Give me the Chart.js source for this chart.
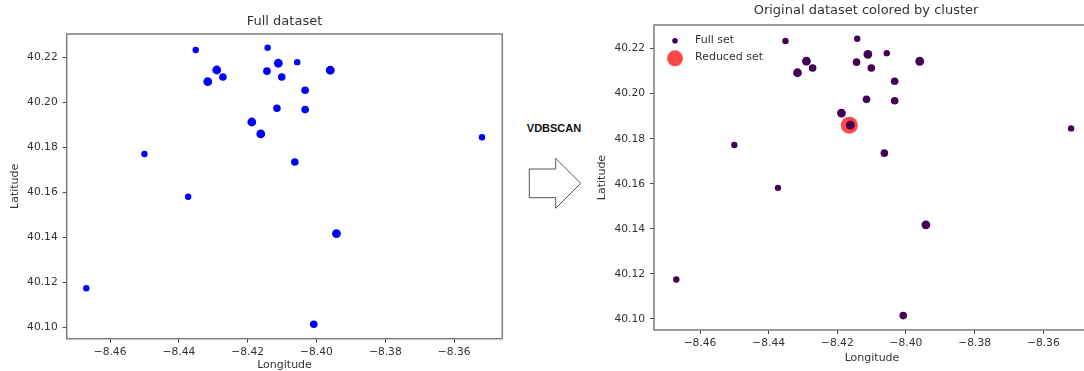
<!DOCTYPE html>
<html>
<head>
<meta charset="utf-8">
<script src="https://cdn.jsdelivr.net/npm/chart.js@4.4.1/dist/chart.umd.min.js"></script>
<style>
  html,body{margin:0;padding:0;background:#fff;overflow:hidden;width:1084px;height:371px;}
  canvas{position:absolute;top:0;}
  #left{left:0;}
  #right{left:590px;}
  #step{position:absolute;left:521px;top:121.7px;width:66px;text-align:center;line-height:12px;
        font:bold 11px "Liberation Sans",Arial,sans-serif;color:#111;}
  #arrow{position:absolute;left:520px;top:150px;}
</style>
</head>
<body>
<canvas id="left" width="505" height="372"></canvas>
<canvas id="right" width="500" height="371"></canvas>
<div id="step">VDBSCAN</div>
<svg id="arrow" width="70" height="70">
  <polygon points="9.3,19 35.7,19 35.7,8.3 60.7,33.3 35.7,58.3 35.7,47.7 9.3,47.7" fill="#fff" stroke="#555" stroke-width="1"/>
</svg>
<script>
// --- Data ---
const longitude = [-8.4351,-8.4142,-8.4290,-8.4316,-8.4272,-8.4144,-8.4111,-8.4101,-8.4056,-8.3960,-8.4033,
                   -8.4115,-8.4033,-8.4188,-8.4162,-8.3519,-8.4500,-8.4063,-8.4373,-8.3942,-8.4669,-8.4008];
const latitude  = [40.2234,40.2244,40.2145,40.2093,40.2114,40.2140,40.2175,40.2114,40.2180,40.2144,40.2055,
                   40.1975,40.1969,40.1914,40.1861,40.1846,40.1772,40.1736,40.1582,40.1418,40.1175,40.1015];
// how many records sit (almost) on top of each other at each spot
const overlap   = [1,1,3,3,2,2,3,2,1,3,2,2,2,3,3,1,1,2,1,3,1,2];
const reducedLon = [-8.4165];
const reducedLat = [40.1860];
const seriesNames = ['Full set','Reduced set'];
const chartTitles = ['Full dataset','Original dataset colored by cluster'];
const tickStep = 0.02;

Chart.defaults.font.family = '"DejaVu Sans", sans-serif';
Chart.defaults.color = '#333';

function points(xs, ys){ return xs.map((x,i)=>({x:x, y:ys[i]})); }
function radiusFor(ctx){ return [0,3.2,3.8,4.4][overlap[ctx.dataIndex]] || 3.2; }
function fmt(v){ return (v<0 ? '\u2212' : '') + Math.abs(v).toFixed(2); }

// matplotlib style box around the axes
const frame = {
  id:'frame',
  afterDatasetsDraw(chart){
    const a=chart.chartArea, ctx=chart.ctx;
    ctx.save();
    ctx.strokeStyle='#7f7f7f'; ctx.lineWidth=1.5;
    ctx.strokeRect(a.left, a.top, a.right-a.left, a.bottom-a.top);
    ctx.restore();
  }
};

// title centred over the axes rather than the canvas
const plotTitle = {
  id:'plotTitle',
  afterDraw(chart, args, opts){
    const a=chart.chartArea, ctx=chart.ctx;
    ctx.save();
    ctx.font='13px "DejaVu Sans", sans-serif';
    ctx.fillStyle='#333'; ctx.textAlign='center'; ctx.textBaseline='middle';
    ctx.fillText(opts.text, (a.left+a.right)/2 + (opts.dx||0), opts.y);
    ctx.restore();
  }
};

// legend inside the axes, markers keep their own sizes
const markerLegend = {
  id:'markerLegend',
  afterDatasetsDraw(chart){
    const a=chart.chartArea, ctx=chart.ctx;
    const rows=[{r:2.8, dy:15.7, ty:15.5}, {r:8, dy:33.3, ty:32.5}];
    ctx.save();
    chart.data.datasets.forEach((ds,i)=>{
      const row=rows[i];
      ctx.beginPath();
      ctx.arc(a.left+21, a.top+row.dy, row.r, 0, Math.PI*2);
      ctx.fillStyle=ds.backgroundColor; ctx.fill();
      ctx.font='11px "DejaVu Sans", sans-serif';
      ctx.fillStyle='#333'; ctx.textAlign='left'; ctx.textBaseline='middle';
      ctx.fillText(ds.label, a.left+41, a.top+row.ty);
    });
    ctx.restore();
  }
};

function axes(c){
  return {
    x:{
      type:'linear', min:c.xmin, max:c.xmax,
      ticks:{stepSize:tickStep, includeBounds:false, autoSkip:false, maxRotation:0, padding:3,
             color:'#333', font:{size:10.7}, callback:fmt},
      grid:{drawOnChartArea:false, tickLength:4, color:'#444'},
      border:{display:false},
      title:{display:true, text:'Longitude', color:'#333', font:{size:11}, padding:{top:0, bottom:c.xPad}},
      afterFit(s){ s.height=c.xHeight; s.paddingLeft=0; s.paddingRight=0; }
    },
    y:{
      type:'linear', min:40.0951, max:40.2305,
      ticks:{stepSize:tickStep, includeBounds:false, autoSkip:false, padding:5,
             color:'#333', font:{size:10.7}, callback:v=>v.toFixed(2)},
      grid:{drawOnChartArea:false, tickLength:4, color:'#444'},
      border:{display:false},
      title:{display:true, text:'Latitude', color:'#333', font:{size:11}, padding:{top:c.yPad, bottom:0}},
      afterFit(s){ s.width=c.yWidth; s.paddingTop=0; s.paddingBottom=0; }
    }
  };
}

// --- Left: full dataset ---
new Chart(document.getElementById('left').getContext('2d'),{
  type:'scatter',
  data:{datasets:[{label:seriesNames[0], data:points(longitude, latitude),
    backgroundColor:'#0000ff', borderWidth:0, pointRadius:radiusFor}]},
  options:{
    responsive:false, animation:false,
    layout:{autoPadding:false, padding:{top:34, right:2.7, left:0, bottom:0}},
    plugins:{legend:{display:false}, tooltip:{enabled:false}, plotTitle:{text:chartTitles[0], y:22}},
    scales:axes({xmin:-8.4726, xmax:-8.3460, xHeight:33.3, xPad:0, yWidth:66.7, yPad:8.4})
  },
  plugins:[frame, plotTitle]
});

// --- Right: colored by cluster + reduced set ---
new Chart(document.getElementById('right').getContext('2d'),{
  type:'scatter',
  data:{datasets:[
    {label:seriesNames[0], data:points(longitude, latitude), order:0,
     backgroundColor:'#440154', borderWidth:0, pointRadius:radiusFor},
    {label:seriesNames[1], data:points(reducedLon, reducedLat), order:1,
     backgroundColor:'rgba(255,0,0,0.72)', borderWidth:0, pointRadius:8.5}
  ]},
  options:{
    responsive:false, animation:false,
    layout:{autoPadding:false, padding:{top:25, right:0, left:0, bottom:0}},
    plugins:{legend:{display:false}, tooltip:{enabled:false}, plotTitle:{text:chartTitles[1], y:11, dx:-6}},
    scales:axes({xmin:-8.4734, xmax:-8.3464, xHeight:41, xPad:6.1, yWidth:64, yPad:5.7})
  },
  plugins:[frame, plotTitle, markerLegend]
});
</script>
</body>
</html>
